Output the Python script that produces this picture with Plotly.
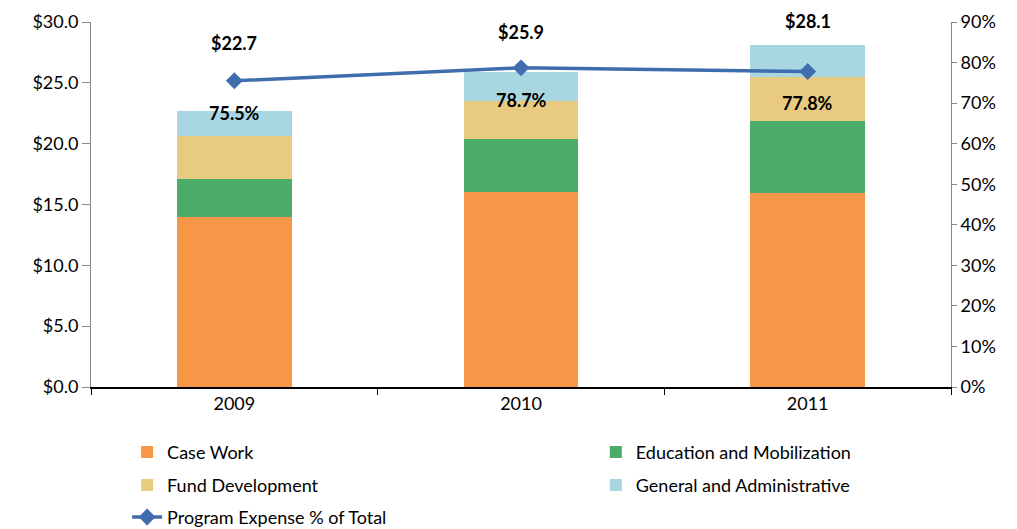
import plotly.graph_objects as go

years = ["2009", "2010", "2011"]
case_work = [14.0, 16.05, 15.97]
education = [3.1, 4.32, 5.86]
fund_dev = [3.5, 3.16, 3.64]
general_admin = [2.1, 2.37, 2.63]
totals = [22.7, 25.9, 28.1]
program_pct = [0.755, 0.787, 0.778]
total_labels = ["$22.7", "$25.9", "$28.1"]
pct_labels = ["75.5%", "78.7%", "77.8%"]

FONT = "Lato"
fig = go.Figure()

bar_series = [
    ("Case Work", case_work, "#F79646", "legend"),
    ("Education and Mobilization", education, "#4BAC6A", "legend2"),
    ("Fund Development", fund_dev, "#E8CB80", "legend3"),
    ("General and Administrative", general_admin, "#A8D7E2", "legend4"),
]
for name, vals, col, lg in bar_series:
    fig.add_trace(go.Bar(x=years, y=vals, name=name, marker=dict(color=col, line=dict(width=0)),
                         width=0.4, legend=lg))

fig.add_trace(go.Scatter(x=years, y=program_pct, name="Program Expense % of Total", yaxis="y2",
                         mode="lines+markers", line=dict(color="#3F6DAE", width=3.5),
                         marker=dict(symbol="diamond", size=13, color="#3F6DAE"), legend="legend5"))

# total labels above
total_shift = [68, 40, 24]
for i, (t, lab, s) in enumerate(zip(totals, total_labels, total_shift)):
    fig.add_annotation(x=i, y=t, yref="y", text=f"<b>{lab}</b>", showarrow=False, yshift=s,
                       font=dict(family=FONT, size=18, color="black"))
for i, (p, lab) in enumerate(zip(program_pct, pct_labels)):
    fig.add_annotation(x=i, y=p, yref="y2", text=f"<b>{lab}</b>", showarrow=False, yshift=-32,
                       font=dict(family=FONT, size=18, color="black"))

legend_common = dict(orientation="v", bgcolor="rgba(0,0,0,0)",
                     font=dict(family=FONT, size=18, color="black"), xanchor="left", yanchor="middle")
c1, c2 = 0.042, 0.587
r1, r2, r3 = -0.179, -0.269, -0.357
fig.update_layout(
    width=1017, height=529,
    margin=dict(l=91, r=66, t=22, b=142, autoexpand=False),
    paper_bgcolor="white", plot_bgcolor="white",
    barmode="stack",
    font=dict(family=FONT, size=18, color="black"),
    xaxis=dict(type="category", range=[-0.5, 2.5], showline=True, linecolor="black", linewidth=1.5,
               ticks="outside", tickson="boundaries", ticklen=6, tickcolor="black", showgrid=False,
               automargin=False, tickfont=dict(family=FONT, size=18)),
    yaxis=dict(range=[0, 30], dtick=5, tickprefix="$", tickformat=".1f", showgrid=False, zeroline=False,
               showline=True, linecolor="#888888", linewidth=1, ticks="outside", ticklen=8,
               tickcolor="#888888", automargin=False, tickfont=dict(family=FONT, size=18)),
    yaxis2=dict(range=[0, 0.9], dtick=0.1, tickformat=".0%", overlaying="y", side="right",
                showgrid=False, zeroline=False, showline=True, linecolor="#888888", linewidth=1,
                ticks="outside", ticklen=5, tickcolor="#888888", automargin=False,
                tickfont=dict(family=FONT, size=18)),
    legend=dict(x=c1, y=r1, **legend_common),
    legend2=dict(x=c2, y=r1, **legend_common),
    legend3=dict(x=c1, y=r2, **legend_common),
    legend4=dict(x=c2, y=r2, **legend_common),
    legend5=dict(x=c1, y=r3, **legend_common),
    showlegend=True,
)
fig.write_html("out.html", config={"displayModeBar": False},
               post_script="document.body.style.margin='0';document.body.style.overflow='hidden';")
